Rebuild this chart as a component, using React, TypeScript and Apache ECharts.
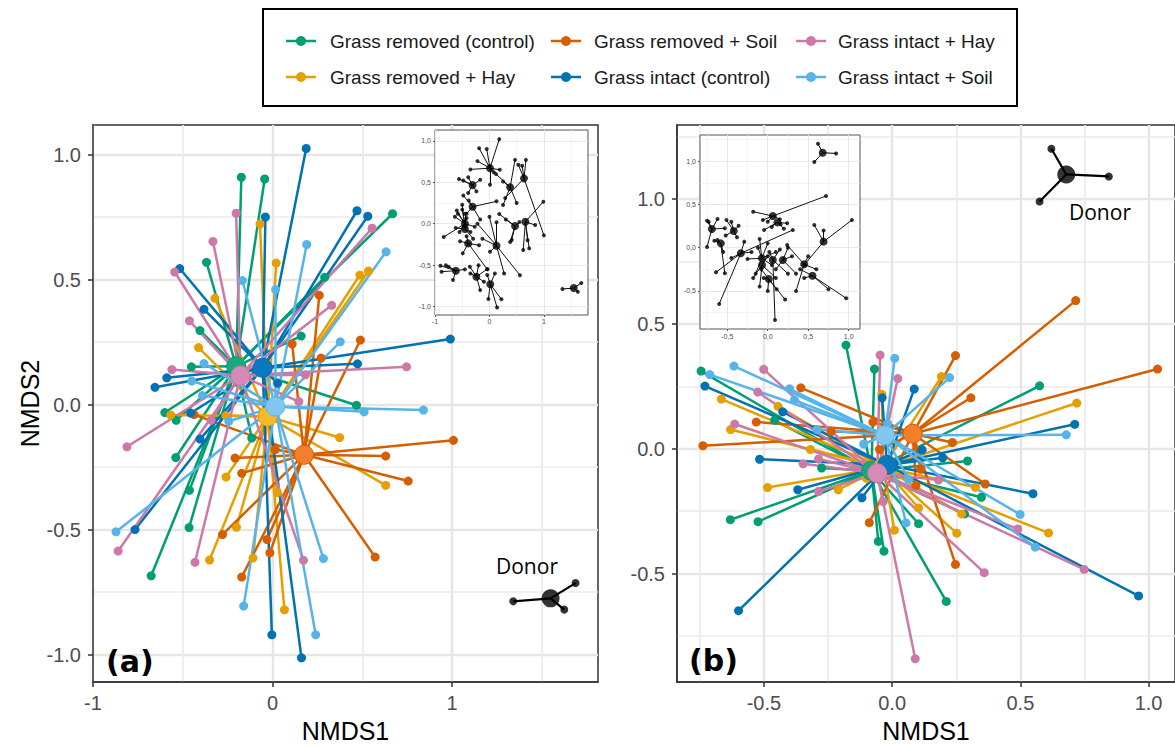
import React, { useEffect, useRef } from "react";
import * as echarts from "echarts";

// ---------- groups & colours ----------
const groups = [
  "Grass removed (control)",
  "Grass removed + Hay",
  "Grass removed + Soil",
  "Grass intact (control)",
  "Grass intact + Hay",
  "Grass intact + Soil",
];
const groupColors = ["#009E73", "#E69F00", "#D55E00", "#0072B2", "#CC79A7", "#56B4E9"];
const centroidColors = ["#1aa87c", "#f7b82c", "#f47f2a", "#0b79bd", "#d68ab6", "#82c7ef"];

// ---------- axis ticks / ranges ----------
const rangeA = { x: [-1, 1.812], y: [-1.11, 1.118] };
const rangeB = { x: [-0.839, 1.103], y: [-0.934, 1.296] };
const rangeInsetA = { x: [-1, 1.81], y: [-1.1, 1.13] };
const rangeInsetB = { x: [-0.837, 1.14], y: [-0.94, 1.303] };
const ticksAx = [-1, 0, 1];
const ticksAy = [-1, -0.5, 0, 0.5, 1];
const ticksBx = [-0.5, 0, 0.5, 1];
const ticksBy = [-0.5, 0, 0.5, 1];

// ---------- panel (a) ----------
const centroidsA = [
  [-0.203, 0.153], [-0.028, -0.048], [0.175, -0.201],
  [-0.055, 0.147], [-0.179, 0.116], [0.015, -0.008],
];
const aRemovedControl = [
  [-0.174, 0.909], [-0.044, 0.902], [0.668, 0.763], [-0.368, 0.569], [0.29, 0.509], [-0.404, 0.296],
  [0.159, 0.274], [-0.452, 0.151], [0.467, -0.003], [-0.6, -0.032], [-0.537, -0.063], [-0.116, -0.134],
  [-0.539, -0.212], [-0.463, -0.343], [-0.465, -0.492], [-0.676, -0.685],
];
const aRemovedHay = [
  [-0.07, 0.722], [0.02, 0.566], [-0.321, 0.425], [0.486, 0.518], [0.534, 0.534], [-0.412, 0.228],
  [-0.567, -0.042], [-0.26, -0.044], [0.373, -0.132], [-0.259, -0.29], [0.63, -0.323], [0.026, -0.352],
  [-0.201, -0.491], [-0.351, -0.622], [-0.109, -0.614], [0.066, -0.821],
];
const aRemovedSoil = [
  [0.26, 0.437], [0.109, 0.242], [0.489, 0.258], [0.27, 0.186], [1.007, -0.143], [0.63, -0.206],
  [0.755, -0.306], [-0.209, -0.214], [0.015, -0.18], [-0.172, -0.275], [0.571, -0.61], [-0.279, -0.52],
  [-0.031, -0.54], [-0.015, -0.593], [-0.172, -0.69], [-0.437, -0.04],
];
const aIntactControl = [
  [0.187, 1.024], [-0.04, 0.75], [0.47, 0.775], [0.53, 0.753], [-0.517, 0.544], [-0.382, 0.381],
  [0.99, 0.262], [0.473, 0.163], [-0.589, 0.107], [-0.655, 0.069], [0.028, 0.085], [-0.456, -0.034],
  [-0.404, -0.138], [-0.766, -0.5], [-0.004, -0.921], [0.161, -1.013],
];
const aIntactHay = [
  [-0.203, 0.765], [-0.332, 0.652], [0.554, 0.705], [-0.545, 0.53], [0.329, 0.397], [-0.463, 0.335],
  [-0.561, 0.14], [0.746, 0.151], [0.183, 0.119], [0.146, 0.012], [-0.811, -0.169], [-0.342, -0.063],
  [-0.86, -0.586], [-0.432, -0.631], [0.172, -0.623],
];
const aIntactSoil = [
  [0.19, 0.64], [-0.168, 0.496], [0.017, 0.46], [0.632, 0.611], [0.377, 0.251], [-0.382, 0.164],
  [-0.45, 0.094], [-0.39, 0.036], [0.51, -0.029], [0.84, -0.022], [-0.244, -0.067], [-0.872, -0.509],
  [0.283, -0.616], [-0.161, -0.806], [0.24, -0.921],
];
const donorCentroidA = [1.548, -0.775];
const donorPointsA = [[1.34, -0.787], [1.687, -0.714], [1.624, -0.82]];

// ---------- panel (b) ----------
const centroidsB = [
  [-0.081, -0.088], [-0.035, -0.075], [0.08, 0.06],
  [-0.02, -0.065], [-0.058, -0.098], [-0.028, 0.054],
];
const bRemovedControl = [
  [-0.18, 0.415], [-0.069, 0.319], [-0.745, 0.311], [-0.458, 0.114], [-0.275, -0.077], [-0.631, -0.284],
  [-0.523, -0.292], [-0.054, -0.371], [-0.032, -0.41], [0.103, -0.3], [0.575, 0.252], [0.294, -0.049],
  [0.348, -0.194], [0.282, -0.261], [0.211, -0.611],
];
const bRemovedHay = [
  [-0.666, 0.199], [-0.445, 0.17], [-0.63, 0.077], [-0.319, -0.003], [-0.486, -0.155], [-0.21, -0.164],
  [-0.04, 0.218], [0.009, -0.326], [-0.1, -0.118], [0.192, 0.289], [0.72, 0.183], [0.325, -0.154],
  [0.271, -0.261], [0.61, -0.337], [0.252, -0.338], [0.103, -0.237],
];
const bRemovedSoil = [
  [-0.356, 0.244], [-0.53, 0.107], [-0.238, 0.069], [-0.738, 0.012], [-0.075, 0.107], [-0.049, -0.003],
  [-0.089, -0.296], [0.093, -0.147], [0.112, -0.082], [0.716, 0.593], [1.035, 0.319], [0.247, 0.373],
  [0.307, 0.204], [0.235, 0.025], [0.363, -0.141], [0.247, -0.463],
];
const bIntactControl = [
  [-0.73, 0.251], [-0.427, 0.148], [-0.517, -0.042], [-0.368, -0.164], [-0.118, -0.196], [-0.599, -0.648],
  [-0.039, 0.204], [0.086, 0.239], [0.712, 0.098], [0.197, -0.036], [0.117, -0.005], [0.549, -0.18],
  [0.961, -0.589],
];
const bIntactHay = [
  [-0.047, 0.375], [0.022, 0.281], [-0.501, 0.318], [-0.524, 0.227], [-0.614, 0.099], [-0.347, -0.06],
  [-0.287, -0.041], [-0.287, -0.171], [-0.035, -0.211], [0.09, -0.841], [0.181, -0.125], [0.49, -0.321],
  [0.359, -0.496], [0.749, -0.483],
];
const bIntactSoil = [
  [-0.711, 0.297], [-0.617, 0.331], [-0.4, 0.24], [-0.381, 0.195], [-0.293, 0.077], [0.01, 0.362],
  [-0.018, 0.101], [-0.111, 0.019], [0.054, -0.297], [0.063, -0.122], [0.224, 0.285], [0.679, 0.056],
  [0.499, -0.263], [0.558, -0.394],
];
const donorCentroidB = [0.679, 1.098];
const donorPointsB = [[0.621, 1.201], [0.845, 1.09], [0.575, 0.99]];

// ---------- insets (per-plot spiders) ----------
const insetACentroids = [
  [0.01, 0.67], [-0.31, 0.466], [0.38, 0.44], [0.635, 0.547], [-0.31, 0.205], [-0.45, 0.0], [-0.45, -0.064],
  [-0.39, -0.237], [0.13, -0.265], [0.47, -0.028], [0.66, 0.024], [-0.617, -0.566], [-0.24, -0.638], [0.015, -0.73],
];
const insetAPoints = [
  [[0.18, 1.02], [-0.19, 0.91], [-0.05, 0.9], [-0.35, 0.655], [-0.22, 0.755], [0.19, 0.65], [0.01, 0.47], [0.08, 0.62]],
  [[-0.56, 0.54], [-0.39, 0.56], [-0.17, 0.53], [-0.39, 0.37], [-0.24, 0.39], [-0.48, 0.52]],
  [[0.25, 0.51], [0.47, 0.77], [0.25, 0.225], [0.5, 0.25], [0.12, 0.6]],
  [[0.53, 0.71], [0.67, 0.77], [1.0, -0.14], [0.29, 0.31], [0.6, 0.7]],
  [[-0.48, 0.34], [0.13, 0.27], [-0.38, 0.28], [-0.17, 0.05], [-0.42, 0.12]],
  [[-0.635, 0.084], [-0.6, 0.16], [-0.5, 0.17], [-0.42, 0.07], [-0.27, -0.036], [-0.84, -0.16], [-0.55, -0.1], [-0.58, 0.12]],
  [[-0.35, -0.1], [-0.62, -0.05], [-0.5, 0.23], [-0.3, -0.18], [-0.45, 0.12]],
  [[-0.54, -0.21], [-0.19, -0.26], [-0.49, -0.357], [-0.42, -0.15], [-0.04, -0.55]],
  [[0.0, 0.084], [0.13, 0.017], [-0.13, -0.18], [0.01, -0.337], [0.27, -0.6], [0.56, -0.62], [-0.22, 0.0]],
  [[0.18, 0.117], [0.41, -0.196], [0.3, 0.05], [0.55, 0.02], [0.38, -0.22]],
  [[0.99, 0.265], [0.84, -0.016], [0.73, -0.297], [0.62, -0.317], [0.7, -0.2]],
  [[-0.9, -0.506], [-0.88, -0.578], [-0.8, -0.5], [-0.67, -0.678], [-0.45, -0.55], [-0.75, -0.52]],
  [[-0.36, -0.518], [-0.17, -0.8], [-0.04, -0.546], [-0.1, -0.7], [-0.35, -0.6], [-0.2, -0.5]],
  [[-0.04, -0.618], [-0.02, -0.907], [0.14, -1.01], [0.22, -0.91], [0.1, -0.6]],
];
const insetBCentroids = [
  [0.063, 0.366], [0.12, 0.293], [-0.69, 0.216], [-0.42, 0.193], [-0.58, 0.05], [-0.333, -0.065], [-0.073, -0.123],
  [-0.07, -0.2], [0.063, -0.142], [0.187, -0.142], [0.013, -0.362], [0.69, 0.07], [0.45, -0.192], [0.553, -0.324],
];
const insetBPoints = [
  [[-0.18, 0.416], [0.72, 0.598], [-0.06, 0.32], [0.0, 0.3], [0.15, 0.33]],
  [[0.24, 0.282], [0.16, 0.27], [-0.045, 0.205], [0.05, 0.24], [0.2, 0.22]],
  [[-0.75, 0.312], [-0.73, 0.3], [-0.75, 0.008], [-0.62, 0.332], [-0.53, 0.224]],
  [[-0.51, 0.32], [-0.36, 0.254], [-0.52, 0.14], [-0.38, 0.12], [-0.45, 0.3]],
  [[-0.62, 0.09], [-0.53, -0.296], [-0.55, -0.05], [-0.66, 0.08]],
  [[-0.64, -0.285], [0.31, 0.205], [-0.6, -0.65], [-0.29, 0.07], [-0.45, -0.12], [-0.2, -0.05]],
  [[-0.1, 0.1], [-0.25, -0.13], [0.0, 0.05], [-0.15, -0.3], [0.05, -0.2], [-0.12, 0.0], [0.1, -0.05]],
  [[-0.18, -0.35], [0.1, -0.35], [0.0, -0.1], [-0.1, -0.45]],
  [[0.09, -0.836], [0.02, -0.05], [0.25, -0.3], [0.15, -0.02]],
  [[0.3, -0.1], [0.35, -0.3], [0.1, -0.25], [0.25, 0.0]],
  [[0.215, -0.6], [-0.05, -0.35], [0.11, -0.48], [0.0, -0.5], [-0.08, -0.25]],
  [[1.04, 0.32], [0.575, 0.262], [0.69, 0.2], [0.45, -0.2]],
  [[0.24, 0.03], [0.35, -0.5], [0.5, -0.1], [0.6, -0.25]],
  [[0.97, -0.585], [0.75, -0.48], [0.4, -0.25], [0.45, -0.35]],
];

const pointsA = [aRemovedControl, aRemovedHay, aRemovedSoil, aIntactControl, aIntactHay, aIntactSoil];
const pointsB = [bRemovedControl, bRemovedHay, bRemovedSoil, bIntactControl, bIntactHay, bIntactSoil];

const FONT = "'Liberation Sans', Arial, sans-serif";
const GRID_MAJOR = { color: "#e6e6e6", width: 2.4 };
const GRID_MINOR = { color: "#ebebeb", width: 1.7 };

function mainX(gridIndex: number, range: number[], ticks: number[], step: number, fmt: (v: number) => string) {
  return {
    type: "value", gridIndex, min: range[0], max: range[1], minInterval: step, maxInterval: step, splitNumber: 3,
    axisLine: { show: true, onZero: false, lineStyle: { color: "#333", width: 1.5 } },
    axisTick: { show: true, length: 5, customValues: ticks, lineStyle: { color: "#333", width: 1.5 } },
    axisLabel: { customValues: ticks, color: "#4d4d4d", fontSize: 20, fontFamily: FONT, margin: 11, formatter: fmt },
    splitLine: { show: true, lineStyle: GRID_MAJOR },
    minorTick: { show: false, splitNumber: 2 },
    minorSplitLine: { show: true, lineStyle: GRID_MINOR },
    name: "NMDS1", nameLocation: "middle", nameGap: 34,
    nameTextStyle: { fontSize: 25, color: "#000", fontFamily: FONT },
  };
}
function mainY(gridIndex: number, range: number[], ticks: number[], step: number, withName: boolean) {
  return {
    type: "value", gridIndex, min: range[0], max: range[1], minInterval: step, maxInterval: step, splitNumber: 4,
    axisLine: { show: true, onZero: false, lineStyle: { color: "#333", width: 1.5 } },
    axisTick: { show: true, length: 5, customValues: ticks, lineStyle: { color: "#333", width: 1.5 } },
    axisLabel: { customValues: ticks, color: "#4d4d4d", fontSize: 20, fontFamily: FONT, margin: 12,
      formatter: (v: number) => v.toFixed(1) },
    splitLine: { show: true, lineStyle: GRID_MAJOR },
    minorTick: { show: false, splitNumber: 2 },
    minorSplitLine: { show: true, lineStyle: GRID_MINOR },
    name: withName ? "NMDS2" : "", nameLocation: "middle", nameGap: 50,
    nameTextStyle: { fontSize: 25, color: "#000", fontFamily: FONT },
  };
}
function insetAxis(gridIndex: number, range: number[], ticks: number[], step: number, fmt: (v: number) => string, margin: number) {
  return {
    type: "value", gridIndex, min: range[0], max: range[1], minInterval: step, maxInterval: step, splitNumber: 3, z: 11,
    axisLine: { show: false, onZero: false },
    axisTick: { show: true, length: 2, customValues: ticks, lineStyle: { color: "#333", width: 0.8 } },
    axisLabel: { customValues: ticks, color: "#4d4d4d", fontSize: 7, fontFamily: FONT, margin, formatter: fmt },
    splitLine: { show: true, lineStyle: { color: "#e8e8e8", width: 1 } },
    minorTick: { show: false, splitNumber: 2 },
    minorSplitLine: { show: true, lineStyle: { color: "#eeeeee", width: 0.7 } },
  };
}

const fmtInt = (v: number) => String(Math.round(v));
const fmt1 = (v: number) => v.toFixed(1);
const fmtIntComma = (v: number) => String(Math.round(v));
const fmt1Comma = (v: number) => v.toFixed(1).replace(".", ",");

function spiderSeries(panel: number, centroids: number[][], sets: number[][][]) {
  const lines = sets.map((pts, g) => ({
    type: "lines", coordinateSystem: "cartesian2d", xAxisIndex: panel, yAxisIndex: panel, silent: true, z: 2,
    data: pts.map((p) => ({ coords: [centroids[g], p] })),
    lineStyle: { color: groupColors[g], width: 2.5, opacity: 1 },
  }));
  const pts = sets.map((p, g) => ({
    type: "scatter", xAxisIndex: panel, yAxisIndex: panel, silent: true, z: 3, data: p, symbolSize: 9,
    itemStyle: { color: groupColors[g], opacity: 1 },
  }));
  const cents = centroids.map((c, g) => ({
    type: "scatter", xAxisIndex: panel, yAxisIndex: panel, silent: true, z: 4, data: [c], symbolSize: 19,
    itemStyle: { color: centroidColors[g], borderColor: groupColors[g], borderWidth: 1, opacity: 1 },
  }));
  return [...lines, ...pts, ...cents];
}

function donorSeries(panel: number, c: number[], pts: number[][], z: number, lw: number, ps: number, cs: number) {
  return [
    { type: "lines", coordinateSystem: "cartesian2d", xAxisIndex: panel, yAxisIndex: panel, silent: true, z,
      data: pts.map((p) => ({ coords: [c, p] })), lineStyle: { color: "#000", width: lw, opacity: 1 } },
    { type: "scatter", xAxisIndex: panel, yAxisIndex: panel, silent: true, z: z + 1, data: pts, symbolSize: ps,
      itemStyle: { color: "#000" } },
    { type: "scatter", xAxisIndex: panel, yAxisIndex: panel, silent: true, z: z + 1, data: [c], symbolSize: cs,
      itemStyle: { color: "#000" } },
  ];
}

function insetSeries(panel: number, cents: number[][], sets: number[][][]) {
  const segs: any[] = [];
  const pts: number[][] = [];
  sets.forEach((s, i) => s.forEach((p) => { segs.push({ coords: [cents[i], p] }); pts.push(p); }));
  return [
    { type: "lines", coordinateSystem: "cartesian2d", xAxisIndex: panel, yAxisIndex: panel, silent: true, z: 12,
      data: segs, lineStyle: { color: "#111", width: 1, opacity: 1 } },
    { type: "scatter", xAxisIndex: panel, yAxisIndex: panel, silent: true, z: 13, data: pts, symbolSize: 4,
      itemStyle: { color: "#000" } },
    { type: "scatter", xAxisIndex: panel, yAxisIndex: panel, silent: true, z: 13, data: cents, symbolSize: 8,
      itemStyle: { color: "#000" } },
  ];
}

function legendGraphics() {
  const dotX = [301, 566, 811];
  const textX = [330, 594, 838];
  const rowY = [41, 77];
  const els: any[] = [
    { type: "rect", z: 20, shape: { x: 263, y: 9, width: 754, height: 97 },
      style: { fill: "#fff", stroke: "#000", lineWidth: 2 } },
  ];
  groups.forEach((name, i) => {
    const col = Math.floor(i / 2);
    const row = i % 2;
    const cx = dotX[col];
    const cy = rowY[row];
    els.push({ type: "line", z: 21, shape: { x1: cx - 15, y1: cy, x2: cx + 15, y2: cy },
      style: { stroke: groupColors[i], lineWidth: 2.5 } });
    els.push({ type: "circle", z: 22, shape: { cx, cy, r: 5 }, style: { fill: groupColors[i] } });
    els.push({ type: "text", z: 22, x: textX[col], y: cy,
      style: { text: name, fill: "#1a1a1a", font: `19px ${FONT}`, align: "left", verticalAlign: "middle",
        textAlign: "left", textVerticalAlign: "middle" } });
  });
  return els;
}

function labelText(text: string, x: number, y: number, font: string) {
  return { type: "text", z: 20, x, y,
    style: { text, fill: "#000", font, align: "left", verticalAlign: "middle", textAlign: "left", textVerticalAlign: "middle" } };
}

const option: any = {
  animation: false,
  backgroundColor: "#fff",
  grid: [
    { left: 93, top: 125, width: 505, height: 562, show: true, borderColor: "#333", borderWidth: 1.5, backgroundColor: "transparent" },
    { left: 677, top: 125, width: 500, height: 562, show: true, borderColor: "#333", borderWidth: 1.5, backgroundColor: "transparent" },
    { left: 435, top: 130, width: 153, height: 185, show: true, borderColor: "#555", borderWidth: 1, backgroundColor: "#fff", z: 10 },
    { left: 700, top: 135, width: 160, height: 194, show: true, borderColor: "#555", borderWidth: 1, backgroundColor: "#fff", z: 10 },
  ],
  xAxis: [
    mainX(0, rangeA.x, ticksAx, 1, fmtInt),
    mainX(1, rangeB.x, ticksBx, 0.5, fmt1),
    insetAxis(2, rangeInsetA.x, ticksAx, 1, fmtIntComma, 3),
    insetAxis(3, rangeInsetB.x, ticksBx, 0.5, fmt1Comma, 4),
  ],
  yAxis: [
    mainY(0, rangeA.y, ticksAy, 0.5, true),
    mainY(1, rangeB.y, ticksBy, 0.5, false),
    insetAxis(2, rangeInsetA.y, ticksAy, 0.5, fmt1Comma, 4),
    insetAxis(3, rangeInsetB.y, ticksBy, 0.5, fmt1Comma, 4),
  ],
  series: [
    ...spiderSeries(0, centroidsA, pointsA),
    ...donorSeries(0, donorCentroidA, donorPointsA, 3, 2.2, 8, 18),
    ...spiderSeries(1, centroidsB, pointsB),
    ...donorSeries(1, donorCentroidB, donorPointsB, 3, 2.2, 8, 18),
    ...insetSeries(2, insetACentroids, insetAPoints),
    ...donorSeries(2, donorCentroidA, donorPointsA, 12, 1, 4, 8),
    ...insetSeries(3, insetBCentroids, insetBPoints),
    ...donorSeries(3, donorCentroidB, donorPointsB, 12, 1, 4, 8),
  ],
  graphic: [
    ...legendGraphics(),
    labelText("(a)", 106, 661, "bold 30px 'DejaVu Sans', sans-serif"),
    labelText("(b)", 689, 660, "bold 30px 'DejaVu Sans', sans-serif"),
    labelText("Donor", 496, 566, "21px 'Open Sans', sans-serif"),
    labelText("Donor", 1069, 212, "21px 'Open Sans', sans-serif"),
  ],
};

export default function App() {
  const ref = useRef<HTMLDivElement>(null);
  useEffect(() => {
    if (!ref.current) return;
    const chart = echarts.init(ref.current, undefined, { renderer: "svg" });
    chart.setOption(option);
    return () => chart.dispose();
  }, []);
  return (
    <div
      ref={ref}
      style={{ position: "fixed", left: 0, top: 0, width: 1175, height: 748, background: "#fff" }}
    />
  );
}
